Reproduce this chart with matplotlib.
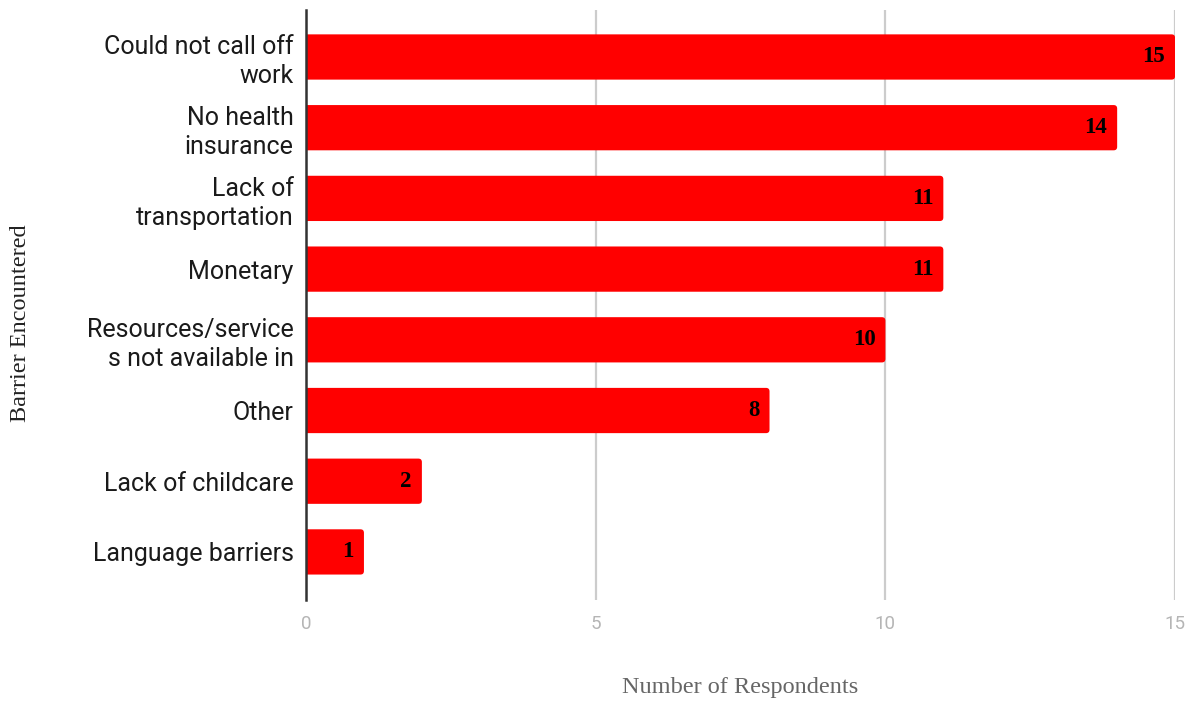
import numpy as np
import matplotlib
matplotlib.use('Agg')
import matplotlib.pyplot as plt
from matplotlib.patches import FancyBboxPatch

# Survey results: barriers to care
barriers = ['Could not call off\nwork', 'No health\ninsurance', 'Lack of\ntransportation',
            'Monetary', 'Resources/service\ns not available in', 'Other',
            'Lack of childcare', 'Language barriers']
respondents = [15, 14, 11, 11, 10, 8, 2, 1]
x_ticks = [0, 5, 10, 15]

bar_color = '#ff0000'

fig = plt.figure(figsize=(11.93, 7.02), dpi=100)
ax = fig.add_axes([0.2565, 0.1453, 0.985 - 0.2565, 0.9858 - 0.1453])

y = np.arange(len(barriers))
bar_h = 0.64
bars = ax.barh(y, respondents, height=bar_h, color=bar_color, zorder=3)

ax.set_xlim(0, 15)
ax.set_ylim(len(barriers) - 0.5 + 0.18, -0.5 - 0.165)

# swap the flat bars for ones with slightly rounded ends
fig.canvas.draw()
bbox = ax.get_window_extent()
px_x = bbox.width / 15.0
px_y = bbox.height / (len(barriers) + 0.345)
for bar in bars:
    bar.set_visible(False)
    x0 = -0.2
    w = bar.get_width() - x0
    patch = FancyBboxPatch((x0, bar.get_y()), w, bar.get_height(),
                           boxstyle='round,pad=0,rounding_size=%f' % (3.5 / px_x),
                           mutation_aspect=px_x / px_y,
                           facecolor=bar_color, edgecolor='none', zorder=3)
    ax.add_patch(patch)
    patch.set_clip_path(ax.patch)

# value labels inside the bar ends
for yi, v in zip(y, respondents):
    ax.annotate(str(v), xy=(v, yi), xytext=(-10, 0), textcoords='offset pixels',
                ha='right', va='center', fontsize=16.5, fontweight='bold',
                family='Liberation Serif', color='black', zorder=5)

ax.set_yticks(y)
ax.set_yticklabels(barriers, fontsize=18, family='Roboto', color='#1a1a1a',
                   linespacing=1.25)
ax.tick_params(axis='y', length=0, pad=9)

ax.set_xticks(x_ticks)
ax.set_xticklabels([str(t) for t in x_ticks], fontsize=13.5, family='Roboto', color='#b5b5b5')
ax.tick_params(axis='x', length=0, pad=11)

ax.grid(axis='x', color='#cccccc', linewidth=1.6, zorder=0)
ax.set_axisbelow(True)

for side in ['top', 'right', 'bottom']:
    ax.spines[side].set_visible(False)
ax.spines['left'].set_color('#333333')
ax.spines['left'].set_linewidth(1.8)
ax.spines['left'].set_zorder(4)

fig.text(0.62, 0.005, 'Number of Respondents', ha='center', va='bottom',
         fontsize=17.5, family='Liberation Serif', color='#666666')
fig.text(0.017, 0.54, 'Barrier Encountered', ha='center', va='center', rotation=90,
         fontsize=17.5, family='Liberation Serif', color='#222222')

fig.savefig('out.png', dpi=100)
